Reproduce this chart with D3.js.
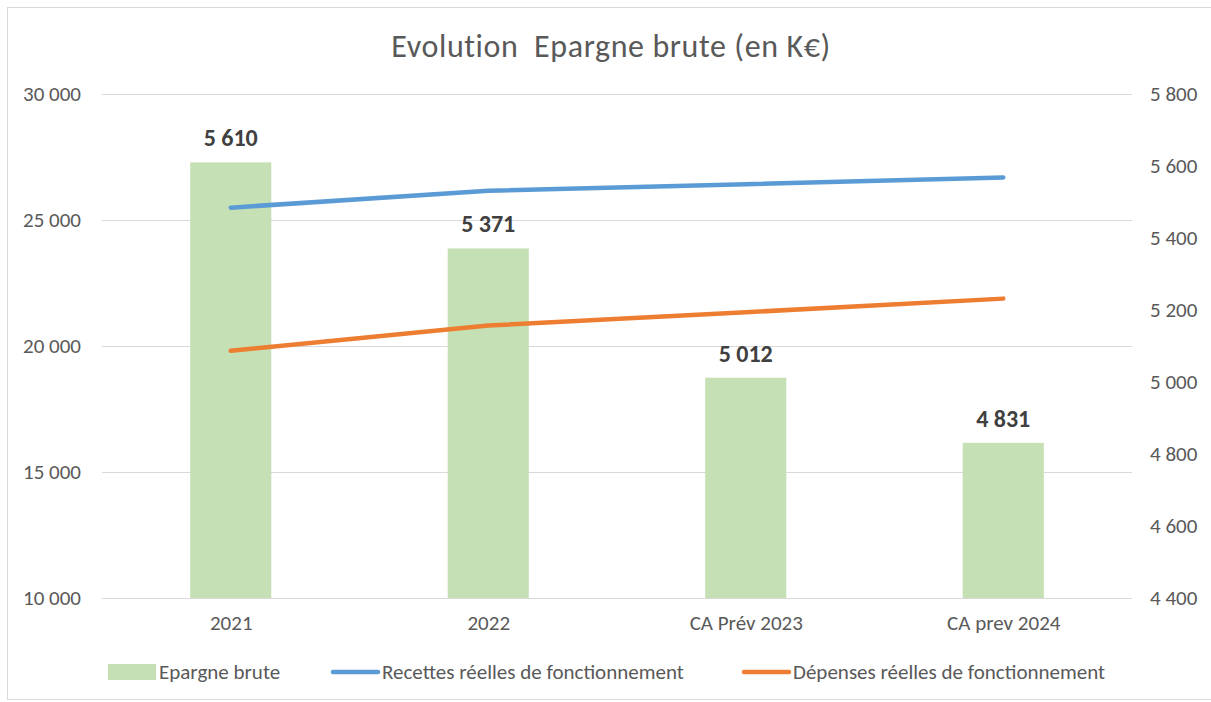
<!DOCTYPE html>
<html lang="fr">
<head>
<meta charset="utf-8">
<title>Evolution Epargne brute</title>
<script src="https://cdn.jsdelivr.net/npm/d3@7"></script>
<style>
  body { margin: 0; background: #fff; }
  text { font-family: Carlito, Calibri, "Liberation Sans", sans-serif; fill: #595959; }
  .axis path, .axis line { display: none; }
  .grid line { stroke: #d9d9d9; stroke-width: 1; shape-rendering: crispEdges; }
  .grid path { display: none; }
</style>
</head>
<body>
<script>
// categories and series
const categories = ["2021", "2022", "CA Prév 2023", "CA prev 2024"];
const epargne = [5610, 5371, 5012, 4831];
const recettes = [25490, 26160, 26420, 26690];
const depenses = [19810, 20810, 21340, 21880];
const leftTicks = [10000, 15000, 20000, 25000, 30000];
const rightTicks = [4400, 4600, 4800, 5000, 5200, 5400, 5600, 5800];

const w = 1211, h = 702;
const plotLeft = 102, plotRight = 1132, plotTop = 94, plotBottom = 598;

const fr = d3.formatLocale({ decimal: ",", thousands: "\u00a0", grouping: [3], currency: ["", " €"] });
const fmt = fr.format(",d");

const svg = d3.select("body").append("svg")
  .attr("width", w).attr("height", h);

// outer frame
svg.append("rect")
  .attr("x", 7.5).attr("y", 7.5).attr("width", w).attr("height", h - 10)
  .attr("fill", "none").attr("stroke", "#d9d9d9");

const x = d3.scaleBand().domain(categories).range([plotLeft, plotRight]).paddingInner(0.685).paddingOuter(0.3425);
const xPoint = d3.scalePoint().domain(categories).range([plotLeft, plotRight]).padding(0.5);
const yL = d3.scaleLinear().domain([10000, 30000]).range([plotBottom, plotTop]);
const yR = d3.scaleLinear().domain([4400, 5800]).range([plotBottom, plotTop]);

// gridlines
svg.append("g").attr("class", "grid")
  .attr("transform", "translate(" + plotLeft + ",0)")
  .call(d3.axisLeft(yL).tickValues(leftTicks).tickSize(-(plotRight - plotLeft)).tickFormat(""));

// title
svg.append("text")
  .attr("x", 611).attr("y", 57)
  .attr("text-anchor", "middle")
  .attr("font-size", "32px")
  .attr("letter-spacing", "0.6px")
  .style("white-space", "pre")
  .text("Evolution  Epargne brute (en K€)");

// bars
svg.selectAll(".bar")
  .data(epargne)
  .enter().append("rect")
  .attr("class", "bar")
  .attr("x", (d, i) => x(categories[i]))
  .attr("width", x.bandwidth())
  .attr("y", d => yR(d))
  .attr("height", d => plotBottom - yR(d))
  .attr("fill", "#c5e0b4");

// bar labels
svg.selectAll(".lbl")
  .data(epargne)
  .enter().append("text")
  .attr("class", "lbl")
  .attr("x", (d, i) => xPoint(categories[i]))
  .attr("y", d => yR(d) - 16)
  .attr("text-anchor", "middle")
  .attr("font-size", "24px")
  .attr("font-weight", "bold")
  .style("fill", "#404040")
  .text(d => fmt(d));

// lines
const line = d3.line()
  .x((d, i) => xPoint(categories[i]))
  .y(d => yL(d));

svg.append("path").datum(recettes)
  .attr("d", line).attr("fill", "none")
  .attr("stroke", "#5b9bd5").attr("stroke-width", 4.5).attr("stroke-linecap", "round").attr("stroke-linejoin", "round");

svg.append("path").datum(depenses)
  .attr("d", line).attr("fill", "none")
  .attr("stroke", "#ed7d31").attr("stroke-width", 4.5).attr("stroke-linecap", "round").attr("stroke-linejoin", "round");

// axes
svg.append("g").attr("class", "axis")
  .attr("transform", "translate(" + (plotLeft - 21) + ",0)")
  .call(d3.axisLeft(yL).tickValues(leftTicks).tickSize(0).tickPadding(0).tickFormat(fmt))
  .selectAll("text").attr("font-size", "21px").style("font-family", null);

svg.append("g").attr("class", "axis")
  .attr("transform", "translate(" + (plotRight + 18) + ",0)")
  .call(d3.axisRight(yR).tickValues(rightTicks).tickSize(0).tickPadding(0).tickFormat(fmt))
  .selectAll("text").attr("font-size", "21px").style("font-family", null);

svg.append("g").attr("class", "axis")
  .attr("transform", "translate(0," + (plotBottom + 17) + ")")
  .call(d3.axisBottom(xPoint).tickSize(0).tickPadding(0))
  .selectAll("text").attr("font-size", "21px").style("font-family", null);

// legend
const legend = [
  { name: "Epargne brute", color: "#c5e0b4", type: "bar", x: 108 },
  { name: "Recettes réelles de fonctionnement", color: "#5b9bd5", type: "line", x: 331 },
  { name: "Dépenses réelles de fonctionnement", color: "#ed7d31", type: "line", x: 742 }
];
const lg = svg.append("g").selectAll("g").data(legend).enter().append("g")
  .attr("transform", d => "translate(" + d.x + ",672)");
lg.filter(d => d.type === "bar").append("rect")
  .attr("x", 0).attr("y", -8).attr("width", 48).attr("height", 16).attr("fill", d => d.color);
lg.filter(d => d.type === "line").append("line")
  .attr("x1", 2).attr("x2", 47).attr("y1", 0).attr("y2", 0)
  .attr("stroke", d => d.color).attr("stroke-width", 4.5).attr("stroke-linecap", "round");
lg.append("text")
  .attr("x", 51).attr("y", 7)
  .attr("font-size", "21px")
  .text(d => d.name);
</script>
</body>
</html>
